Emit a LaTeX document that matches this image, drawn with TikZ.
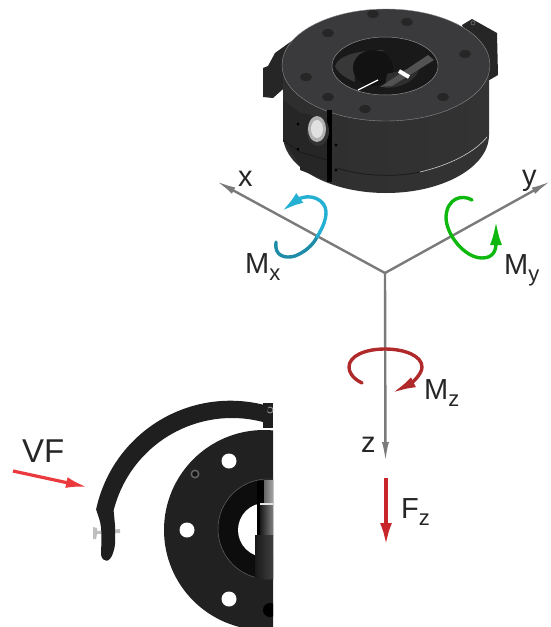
\documentclass[tikz,border=0pt]{standalone}
\usepackage{fontspec}
\setmainfont{Liberation Sans}
\usetikzlibrary{arrows.meta}
\definecolor{mxblue}{HTML}{23B0D3}
\definecolor{mxdark}{HTML}{1E8CA8}
\definecolor{mygreen}{HTML}{0FB80F}
\definecolor{mzred}{HTML}{B02A2C}
\definecolor{fzred}{HTML}{C8262B}
\definecolor{vfred}{HTML}{EA3A3E}
\definecolor{axisgray}{HTML}{7A7A7A}
\definecolor{facegray}{HTML}{3A3A3C}
\newcommand{\sublbl}[1]{{\fontsize{22}{22}\selectfont\raisebox{-7pt}{#1}}}
\begin{document}
\begin{tikzpicture}[x=1pt,y=-1pt,line join=round,
    axis/.style={axisgray,line width=2.4pt,-{Latex[length=20pt,width=7pt]}},
    moment/.style={line width=3.4pt,line cap=round},
    lbl/.style={font=\fontsize{29}{30}\selectfont,anchor=base west,inner sep=0pt,text=black!85},
    hole/.style={fill=black!85,x radius=6,y radius=4}]
\useasboundingbox (0,0) rectangle (550,627);

\fill[black!85] (462,25) -- (472,19) -- (497,33) -- (498,75) -- (486,82) -- cycle;
\draw[black!55,line width=0.6pt] (473,23) circle (2);
\fill[black!85] (263,68) -- (268,66) -- (275,53) -- (293,40) -- (296,80) -- (282,90) -- (273,98) -- (263,97) -- cycle;
\shade[left color=black!82,middle color=black!70,right color=black!80]
  (283,65) -- (283,135) .. controls (283,167) and (329,193) .. (386,193)
  .. controls (443,193) and (489,167) .. (489,135) -- (489,65) -- cycle;
\fill[black!85] (283,100) -- (299,112) -- (329,120) -- (331,182) -- (300,170) -- (300,165) -- (283,140) -- cycle;
\draw[black!90,line width=0.7pt] (337,168) .. controls (365,177) and (397,177) .. (420,172);
\draw[black!20,line width=0.6pt] (420,172) .. controls (450,165) and (475,152) .. (487,137);
\draw[black!90,line width=0.7pt] (283,140) -- (300,152) -- (327,160);
\fill[facegray,draw=black!45,line width=0.4pt] (386,65) ellipse [x radius=104,y radius=56];

\fill[black!90,draw=black!45,line width=0.5pt] (385,66) ellipse [x radius=53,y radius=29];
\fill[black!78] (335,66) .. controls (338,55) and (360,50) .. (385,50) .. controls (365,55) and (352,66) .. (355,82) .. controls (345,78) and (337,72) .. (335,66) -- cycle;
\fill[black!93] (373,68) ellipse [x radius=20,y radius=18];
\fill[black!82] (387,74) -- (420,66) .. controls (418,78) and (405,88) .. (385,88) -- cycle;
\fill[black!68] (380,87) -- (428,55) -- (434,60) -- (392,86) -- cycle;
\draw[white,line width=1.3pt] (358,90) -- (378,80);
\draw[white,line width=4pt] (399,71) -- (409,77);

\foreach \hx/\hy in {373/14,407/22,465/54,443/97,365/109,328/97,306/77,328/33}
  \fill[hole] (\hx,\hy) ellipse [];

\fill[black] (327,110) rectangle (332,182);
\fill[black!80] (318,131) ellipse [x radius=11,y radius=15];
\fill[black!30] (317,129) ellipse [x radius=9,y radius=13];
\fill[black!12] (317,129) ellipse [x radius=6,y radius=9];
\foreach \hx/\hy in {298/124,298/149,336/145,336/170}
  \fill[black] (\hx,\hy) circle (1.5);

\coordinate (O) at (385,273);
\coordinate (xend) at (216,181);
\coordinate (yend) at (551,181);
\coordinate (zend) at (385.5,462);
\path[axis] (O) edge (xend) (O) edge (yend) (O) edge (zend);

\draw[moment,mxdark] (276,242) .. controls (274,256) and (285,259) .. (295,256) .. controls (305,252) and (313,245) .. (317,237);
\draw[moment,mxblue,-{Latex[length=22pt,width=12pt]}] (317,237) .. controls (323,227) and (326,220) .. (326,212) .. controls (326,200) and (310,192) .. (297,200) -- (282,211);

\draw[moment,mygreen,-{Latex[length=24pt,width=12pt]}] (472,200) .. controls (462,194) and (447,198) .. (446,217) .. controls (446,235) and (465,258) .. (482,258) .. controls (492,258) and (496,252) .. (496,243) -- (496,221);

\draw[moment,mzred,-{Latex[length=24pt,width=11pt]}] (362,383) .. controls (352,378) and (349,372) .. (349,367) .. controls (349,356) and (365,349) .. (385,349) .. controls (405,349) and (422,356) .. (422,367) .. controls (422,375) and (410,384) .. (392,393);

\coordinate (fzstart) at (386,478);
\coordinate (fztip) at (386,545);
\draw[fzred,line width=3.6pt,-{Latex[length=22pt,width=12pt]}] (fzstart) -- (fztip);

\coordinate (vfstart) at (13,471);
\coordinate (vftip) at (87,487);
\draw[vfred,line width=3.2pt,-{Latex[length=21pt,width=11pt]}] (vfstart) -- (vftip);

\node[lbl] (xlabel) at (238,186) {x};
\node[lbl] (ylabel) at (522,185) {y};
\node[lbl] (zlabel) at (361,452) {z};
\node[lbl] (mxlabel) at (245,273) {M\sublbl{x}};
\node[lbl] (mylabel) at (504,274) {M\sublbl{y}};
\node[lbl] (mzlabel) at (424,399) {M\sublbl{z}};
\node[lbl] (fzlabel) at (401,518) {F\sublbl{z}};
\node[lbl,font=\fontsize{33}{34}\selectfont] (vflabel) at (22,462) {VF};

\begin{scope}
\clip (0,390) rectangle (273,627);
\fill[black!87] (264,530) circle (100);
\fill[white] (229,461) circle (7.5) (187,530) circle (7.5) (229,599) circle (7.5);
\fill[black!60] (195,474) circle (4.5);
\fill[black!92] (195,474) circle (2.8);
\fill[black!95,draw=black!60,line width=0.5pt] (268,529) circle (50);
\fill[white] (265,530) circle (27);
\fill[black] (257,481) rectangle (273,577);
\shade[left color=black!60,right color=black!35] (264,480) rectangle (273,503);
\shade[left color=black!90,middle color=black!55,right color=black!50] (260,505) rectangle (273,535);
\fill[black!10] (260,503) rectangle (273,505);
\shade[left color=black!90,middle color=black!45,right color=black!75] (255,535) rectangle (273,578);
\fill[black] (270,610) circle (7);
\fill[black!88] (263,403) rectangle (273,428);
\draw[black!45,line width=1pt] (270,410) circle (3);
\end{scope}

\fill[black!25] (93,527) -- (97,528) -- (97,531) -- (120,529) -- (120,533) -- (97,534) -- (96,539) -- (93,539) -- cycle;
\fill[black!88] plot[domain=168:74,samples=50] ({230.4+137.3*cos(\x)},{538-137.3*sin(\x)})
  -- plot[domain=74:166,samples=50] ({232+122*cos(\x)},{540-122*sin(\x)})
  -- (115,525) .. controls (115,540) and (116,545) .. (113,553) .. controls (110,563) and (103,563) .. (101,555)
  .. controls (101,545) and (103,530) .. (99,518) -- cycle;
\end{tikzpicture}
\end{document}
